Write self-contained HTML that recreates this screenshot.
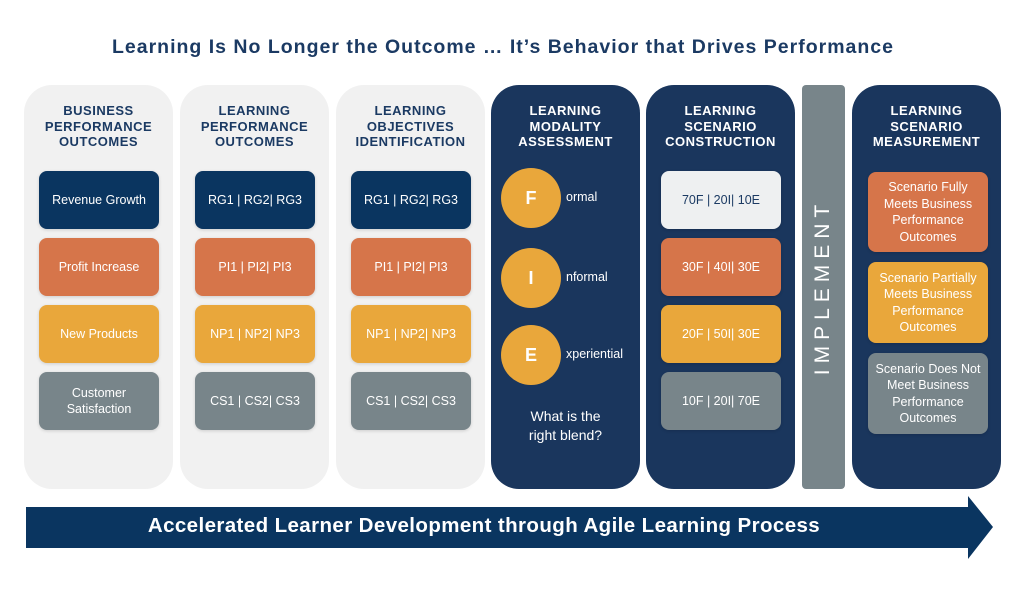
<!DOCTYPE html>
<html><head><style>
body{margin:0;width:1024px;height:590px;background:#fff;position:relative;overflow:hidden;font-family:"Liberation Sans",sans-serif}
.a{position:absolute}
.title{left:-9px;width:1024px;top:36px;text-align:center;font-size:19.5px;font-weight:bold;color:#1b3a63;letter-spacing:1px}
.col{position:absolute;top:85px;height:404px;width:149px;border-radius:28px}
.lg{background:#f1f1f1}.dk{background:#1a365d}
.h{position:absolute;top:18px;left:0;width:100%;text-align:center;font-size:13px;font-weight:bold;line-height:15.5px;letter-spacing:0.5px}
.lg .h{color:#1b3a63}.dk .h{color:#fff}
.b{position:absolute;left:15px;width:120px;height:58px;border-radius:8px;display:flex;align-items:center;justify-content:center;text-align:center;color:#fff;font-size:12.5px;line-height:16.5px;box-shadow:0 1px 3px rgba(0,0,0,.15)}
.n{background:#0a3560}.o{background:#d6754a}.y{background:#e9a73b}.g{background:#78858a}.w{background:#eef0f1;color:#1b3a63}
.c{position:absolute;left:10px;width:60px;height:60px;border-radius:50%;background:#e9a73b;color:#fff;font-weight:bold;font-size:18px;display:flex;align-items:center;justify-content:center}
.ct{position:absolute;left:75px;color:#fff;font-size:12.5px}
</style></head><body>
<div class="a title">Learning Is No Longer the Outcome … It’s Behavior that Drives Performance</div>

<div class="col lg" style="left:24px"><div class="h">BUSINESS<br>PERFORMANCE<br>OUTCOMES</div>
<div class="b n" style="top:86px">Revenue Growth</div>
<div class="b o" style="top:153px">Profit Increase</div>
<div class="b y" style="top:220px">New Products</div>
<div class="b g" style="top:287px">Customer<br>Satisfaction</div></div>

<div class="col lg" style="left:180px"><div class="h">LEARNING<br>PERFORMANCE<br>OUTCOMES</div>
<div class="b n" style="top:86px">RG1 | RG2| RG3</div>
<div class="b o" style="top:153px">PI1 | PI2| PI3</div>
<div class="b y" style="top:220px">NP1 | NP2| NP3</div>
<div class="b g" style="top:287px">CS1 | CS2| CS3</div></div>

<div class="col lg" style="left:336px"><div class="h">LEARNING<br>OBJECTIVES<br>IDENTIFICATION</div>
<div class="b n" style="top:86px">RG1 | RG2| RG3</div>
<div class="b o" style="top:153px">PI1 | PI2| PI3</div>
<div class="b y" style="top:220px">NP1 | NP2| NP3</div>
<div class="b g" style="top:287px">CS1 | CS2| CS3</div></div>

<div class="col dk" style="left:491px"><div class="h">LEARNING<br>MODALITY<br>ASSESSMENT</div>
<div class="c" style="top:83px">F</div><div class="ct" style="top:105px">ormal</div>
<div class="c" style="top:163px">I</div><div class="ct" style="top:185px">nformal</div>
<div class="c" style="top:240px">E</div><div class="ct" style="top:262px">xperiential</div>
<div class="a" style="left:0;width:149px;top:322px;text-align:center;color:#fff;font-size:14px;line-height:19px">What is the<br>right blend?</div></div>

<div class="col dk" style="left:646px"><div class="h">LEARNING<br>SCENARIO<br>CONSTRUCTION</div>
<div class="b w" style="top:86px">70F | 20I| 10E</div>
<div class="b o" style="top:153px">30F | 40I| 30E</div>
<div class="b y" style="top:220px">20F | 50I| 30E</div>
<div class="b g" style="top:287px">10F | 20I| 70E</div></div>

<div class="a" style="left:802px;top:85px;width:43px;height:404px;background:#78858a;border-radius:4px"></div>
<div class="a" style="left:823px;top:287px;transform:translate(-50%,-50%) rotate(-90deg);color:#fff;font-size:21px;letter-spacing:6px;white-space:nowrap">IMPLEMENT</div>

<div class="col dk" style="left:852px"><div class="h">LEARNING<br>SCENARIO<br>MEASUREMENT</div>
<div class="b o" style="top:87px;left:16px;height:80px">Scenario Fully<br>Meets Business<br>Performance<br>Outcomes</div>
<div class="b y" style="top:177px;left:16px;height:81px">Scenario Partially<br>Meets Business<br>Performance<br>Outcomes</div>
<div class="b g" style="top:268px;left:16px;height:81px">Scenario Does Not<br>Meet Business<br>Performance<br>Outcomes</div></div>

<svg class="a" style="left:0;top:0" width="1024" height="590"><polygon points="26,507 968,507 968,496 993,527 968,559 968,548 26,548" fill="#0a3560"/></svg>
<div class="a" style="left:26px;width:916px;top:514px;text-align:center;color:#fff;font-weight:bold;font-size:20.5px;letter-spacing:0.4px">Accelerated Learner Development through Agile Learning Process</div>
</body></html>
